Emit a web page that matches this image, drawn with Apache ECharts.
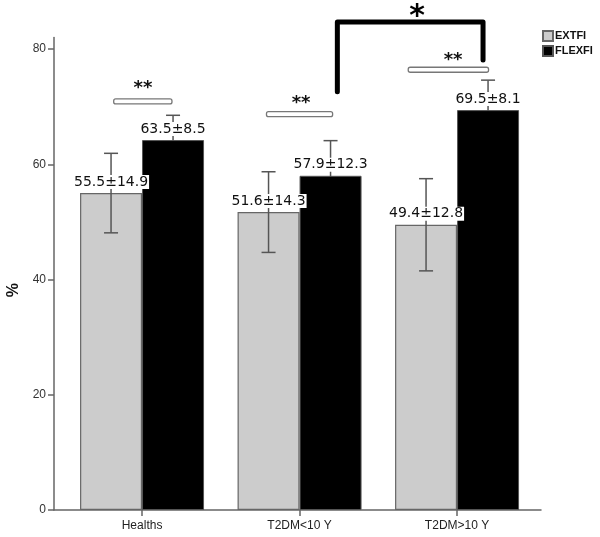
<!DOCTYPE html>
<html>
<head>
<meta charset="utf-8">
<script src="https://cdn.jsdelivr.net/npm/echarts@6/dist/echarts.min.js"></script>
<style>html,body{margin:0;padding:0;background:#fff}#c{width:600px;height:537px}</style>
</head>
<body>
<div id="c"></div>
<script>
// ---- data ----
const categories = ['Healths', 'T2DM<10 Y', 'T2DM>10 Y'];
const categoryPos = [0, 1, 2];
const extBar = [55.0, 51.7, 49.5];
const flexBar = [64.2, 58.0, 69.4];
const extErr = [6.9, 7.0, 8.0];
const flexErr = [4.3, 6.1, 5.2];
const extMean = [55.5, 51.6, 49.4];
const extSD = [14.9, 14.3, 12.8];
const flexMean = [63.5, 57.9, 69.5];
const flexSD = [8.5, 12.3, 8.1];
const yTicks = [0, 20, 40, 60, 80];
// within-group significance: bar from start to end at level, stars at starX / starLevel
const pairSigStart = [-0.18, 0.79, 1.69];
const pairSigEnd = [0.19, 1.21, 2.20];
const pairSigLevel = [70.9, 68.7, 76.4];
const pairStarX = [0.006, 1.01, 1.975];
const pairStarLevel = [73.2, 70.6, 78.1];
const pairStars = ['**', '**', '**'];
// between-group bracket
const bracketLeft = [1.24];
const bracketRight = [2.165];
const bracketTop = [84.7];
const bracketLeftEnd = [72.6];
const bracketRightEnd = [78.1];
const bracketStarX = [1.746];
const bracketStar = ['*'];

// ---- chart ----
const BAR_W = 62;
const chart = echarts.init(document.getElementById('c'), null, {renderer: 'canvas'});

function errRender(side) {
  return function (params, api) {
    const x = api.value(0), m = api.value(1), e = api.value(2);
    const mean = api.value(3), sd = api.value(4);
    const c = api.coord([x, m]);
    const cx = c[0] + side * BAR_W / 2;
    const yHi = api.coord([x, m + e])[1];
    const yLo = api.coord([x, m - e])[1];
    const cap = 7;
    const ls = {stroke: '#555', lineWidth: 1.5};
    return {
      type: 'group',
      children: [
        {type: 'line', shape: {x1: cx, y1: yHi, x2: cx, y2: yLo}, style: ls},
        {type: 'line', shape: {x1: cx - cap, y1: yHi, x2: cx + cap, y2: yHi}, style: ls},
        {type: 'line', shape: {x1: cx - cap, y1: yLo, x2: cx + cap, y2: yLo}, style: ls},
        {type: 'text', x: cx, y: c[1] - 4, style: {
          text: mean.toFixed(1) + '±' + sd.toFixed(1),
          font: '14px "DejaVu Sans"', fill: '#111',
          align: 'center', verticalAlign: 'bottom',
          backgroundColor: '#fff', padding: [0, 1, 0, 1]
        }}
      ]
    };
  };
}

const extErrData = categoryPos.map((p, i) => [p, extBar[i], extErr[i], extMean[i], extSD[i]]);
const flexErrData = categoryPos.map((p, i) => [p, flexBar[i], flexErr[i], flexMean[i], flexSD[i]]);
const pairData = categoryPos.map((p, i) => [pairSigStart[i], pairSigLevel[i], pairSigEnd[i], pairStarLevel[i], pairStarX[i], i]);
const bracketData = bracketLeft.map((l, i) => [l, bracketTop[i], bracketRight[i], bracketLeftEnd[i], bracketRightEnd[i], bracketStarX[i], i]);

const option = {
  animation: false,
  backgroundColor: '#fff',
  grid: {left: 54, right: 59, top: 37.5, bottom: 27, containLabel: false},
  legend: {
    orient: 'vertical', left: 542, top: 30, itemWidth: 10, itemHeight: 10, itemGap: 3,
    icon: 'rect', padding: 0,
    textStyle: {fontFamily: '"Liberation Sans", Arial', fontSize: 11, fontWeight: 'bold', color: '#111', padding: [0, 0, 0, -3]},
    data: ['EXTFI', 'FLEXFI']
  },
  xAxis: {
    type: 'value', min: -0.559, max: 2.533,
    splitLine: {show: false},
    axisLine: {show: true, onZero: false, lineStyle: {color: '#666', width: 1.5}},
    axisTick: {show: true, customValues: categoryPos, length: 6, lineStyle: {color: '#666', width: 1.5}},
    axisLabel: {
      customValues: categoryPos, margin: 10,
      formatter: v => categories[Math.round(v)],
      fontFamily: '"Liberation Sans", Arial', fontSize: 12, color: '#222'
    }
  },
  yAxis: {
    type: 'value', min: 0, max: 82, interval: 20,
    splitLine: {show: false},
    axisLine: {show: true, onZero: false, lineStyle: {color: '#666', width: 1.5}},
    axisTick: {show: true, customValues: yTicks, length: 6, lineStyle: {color: '#666', width: 1.5}},
    axisLabel: {customValues: yTicks, margin: 8, fontFamily: '"Liberation Sans", Arial', fontSize: 12, color: '#333'}
  },
  graphic: [{
    type: 'text', left: 6, top: 283, rotation: Math.PI / 2,
    style: {text: '%', font: 'bold 16px "Liberation Sans", Arial', fill: '#111'}
  }],
  series: [
    {
      name: 'EXTFI', type: 'bar', barWidth: BAR_W, barGap: '0%', z: 2,
      itemStyle: {color: '#cccccc', borderColor: '#666', borderWidth: 1.2},
      data: categoryPos.map((p, i) => [p, extBar[i]])
    },
    {
      name: 'FLEXFI', type: 'bar', barWidth: BAR_W, barGap: '0%', z: 2,
      itemStyle: {color: '#000000', borderColor: '#555', borderWidth: 1},
      data: categoryPos.map((p, i) => [p, flexBar[i]])
    },
    {
      type: 'custom', z: 3, clip: false, silent: true,
      renderItem: errRender(-1), encode: {x: 0, y: 1}, data: extErrData
    },
    {
      type: 'custom', z: 1, clip: false, silent: true,
      renderItem: errRender(1), encode: {x: 0, y: 1}, data: flexErrData
    },
    {
      type: 'custom', z: 4, clip: false, silent: true,
      encode: {x: [0, 2], y: [1, 3]},
      renderItem: function (params, api) {
        const a = api.coord([api.value(0), api.value(1)]);
        const b = api.coord([api.value(2), api.value(1)]);
        const s = api.coord([api.value(4), api.value(3)]);
        const idx = api.value(5);
        return {type: 'group', children: [
          {type: 'rect', shape: {x: a[0], y: a[1] - 2.5, width: b[0] - a[0], height: 5, r: 2},
           style: {fill: '#fff', stroke: '#777', lineWidth: 1.3}},
          {type: 'text', x: s[0], y: s[1], style: {text: pairStars[idx], font: 'bold 18px "DejaVu Sans"',
            fill: '#111', align: 'center', verticalAlign: 'middle'}}
        ]};
      },
      data: pairData
    },
    {
      type: 'custom', z: 4, clip: false, silent: true,
      encode: {x: [0, 2], y: [1, 3, 4]},
      renderItem: function (params, api) {
        const l = api.value(0), t = api.value(1), r = api.value(2);
        const p1 = api.coord([l, api.value(3)]);
        const p2 = api.coord([l, t]);
        const p3 = api.coord([r, t]);
        const p4 = api.coord([r, api.value(4)]);
        const s = api.coord([api.value(5), t]);
        const idx = api.value(6);
        return {type: 'group', children: [
          {type: 'polyline', shape: {points: [p1, p2, p3, p4]},
           style: {stroke: '#000', lineWidth: 5, fill: null, lineCap: 'round', lineJoin: 'round'}},
          {type: 'text', x: s[0], y: s[1] - 5, style: {text: bracketStar[idx], font: 'bold 30px "DejaVu Sans"',
            fill: '#000', align: 'center', verticalAlign: 'middle'}}
        ]};
      },
      data: bracketData
    }
  ]
};
chart.setOption(option);
</script>
</body>
</html>
